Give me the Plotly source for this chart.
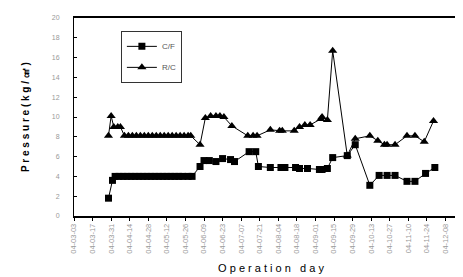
import plotly.graph_objects as go

# C/F series
cf_dates = ["2004-03-29", "2004-04-01", "2004-04-03", "2004-04-06", "2004-04-09", "2004-04-12",
            "2004-04-15", "2004-04-18", "2004-04-21", "2004-04-24", "2004-04-27", "2004-04-30",
            "2004-05-03", "2004-05-06", "2004-05-09", "2004-05-12", "2004-05-15", "2004-05-18",
            "2004-05-21", "2004-05-24", "2004-05-28", "2004-05-31", "2004-06-06", "2004-06-09",
            "2004-06-13", "2004-06-18", "2004-06-23", "2004-06-29", "2004-07-02", "2004-07-13",
            "2004-07-18", "2004-07-20", "2004-07-29", "2004-08-06", "2004-08-09", "2004-08-17",
            "2004-08-20", "2004-08-26", "2004-09-04", "2004-09-06", "2004-09-10", "2004-09-14",
            "2004-09-25", "2004-10-01", "2004-10-12", "2004-10-19", "2004-10-25", "2004-10-31",
            "2004-11-09", "2004-11-15", "2004-11-23", "2004-11-30"]
cf_values = [1.8, 3.6, 4.0, 4.0, 4.0, 4.0,
             4.0, 4.0, 4.0, 4.0, 4.0, 4.0,
             4.0, 4.0, 4.0, 4.0, 4.0, 4.0,
             4.0, 4.0, 4.0, 4.0, 5.0, 5.6,
             5.6, 5.5, 5.8, 5.7, 5.5, 6.5,
             6.5, 5.0, 4.9, 4.9, 4.9, 4.9,
             4.8, 4.8, 4.7, 4.7, 4.8, 5.9,
             6.1, 7.2, 3.1, 4.1, 4.1, 4.1,
             3.5, 3.5, 4.3, 4.9]

# R/C series
rc_dates = ["2004-03-29", "2004-03-31", "2004-04-02", "2004-04-05", "2004-04-07", "2004-04-10",
            "2004-04-13", "2004-04-16", "2004-04-19", "2004-04-22", "2004-04-25", "2004-04-28",
            "2004-05-01", "2004-05-04", "2004-05-07", "2004-05-10", "2004-05-13", "2004-05-16",
            "2004-05-19", "2004-05-22", "2004-05-25", "2004-05-28", "2004-05-30", "2004-06-06",
            "2004-06-10", "2004-06-14", "2004-06-18", "2004-06-21", "2004-06-24", "2004-06-30",
            "2004-07-12", "2004-07-16", "2004-07-19", "2004-07-29", "2004-08-05", "2004-08-07",
            "2004-08-16", "2004-08-20", "2004-08-24", "2004-08-28", "2004-09-05", "2004-09-06",
            "2004-09-10", "2004-09-14", "2004-09-25", "2004-10-01", "2004-10-12", "2004-10-18",
            "2004-10-23", "2004-10-25", "2004-10-31", "2004-11-09", "2004-11-15", "2004-11-22",
            "2004-11-29"]
rc_values = [8.1, 10.1, 9.0, 9.0, 9.0, 8.1,
             8.1, 8.1, 8.1, 8.1, 8.1, 8.1,
             8.1, 8.1, 8.1, 8.1, 8.1, 8.1,
             8.1, 8.1, 8.1, 8.1, 8.1, 7.2,
             9.9, 10.1, 10.1, 10.1, 10.0, 9.1,
             8.1, 8.1, 8.1, 8.7, 8.6, 8.6,
             8.6, 9.0, 9.2, 9.2, 9.8, 10.0,
             9.7, 16.7, 6.1, 7.8, 8.1, 7.6,
             7.2, 7.2, 7.2, 8.1, 8.1, 7.5,
             9.6]

x_start = "2004-03-03"
x_end = "2004-12-25"
tick_step_days = 14
y_ticks = [0, 2, 4, 6, 8, 10, 12, 14, 16, 18, 20]

fig = go.Figure()
fig.add_trace(go.Scatter(
    x=cf_dates, y=cf_values, name="C/F", mode="lines+markers", legendgroup="cf",
    line=dict(color="black", width=1),
    marker=dict(symbol="square", size=7, color="black"),
))
fig.add_trace(go.Scatter(
    x=rc_dates, y=rc_values, name="R/C", mode="lines+markers", legendgroup="rc",
    line=dict(color="black", width=1),
    marker=dict(symbol="triangle-up", size=8, color="black"),
))

fig.update_layout(
    width=463, height=277,
    margin=dict(l=66, r=3, t=10, b=69, autoexpand=False),
    paper_bgcolor="white", plot_bgcolor="white",
    font=dict(family="Arial, Liberation Sans, sans-serif", color="black"),
    showlegend=True,
    legend=dict(
        x=0.119, y=0.935, xanchor="left", yanchor="top",
        bordercolor="#333333", borderwidth=1, bgcolor="white",
        font=dict(size=8, color="#555555"),
        traceorder="grouped", tracegroupgap=2,
    ),
    xaxis=dict(
        type="date", automargin=False,
        range=[x_start, x_end],
        tick0=x_start, dtick=tick_step_days * 86400000,
        tickformat="%y-%m-%d", tickangle=-90,
        tickfont=dict(size=7.5, color="#999999"),
        ticks="outside", ticklen=3, tickcolor="black",
        showline=True, linecolor="black", linewidth=1.5, mirror=True,
        showgrid=False, zeroline=False,
        title=dict(text="O p e r a t i o n   d a y", font=dict(size=11, color="black"), standoff=12),
    ),
    yaxis=dict(
        range=[0, 20], tickvals=y_ticks, automargin=False,
        tickfont=dict(size=7, color="#999999"),
        ticks="inside", ticklen=3, tickcolor="black",
        ticklabelstandoff=12,
        showline=True, linecolor="black", linewidth=1, mirror=True,
        showgrid=False, zeroline=False,
        title=dict(text="<b>P r e s s u r e ( k g / ㎠ )</b>", font=dict(size=10, color="black"), standoff=20),
    ),
)

fig.write_html("out.html")
